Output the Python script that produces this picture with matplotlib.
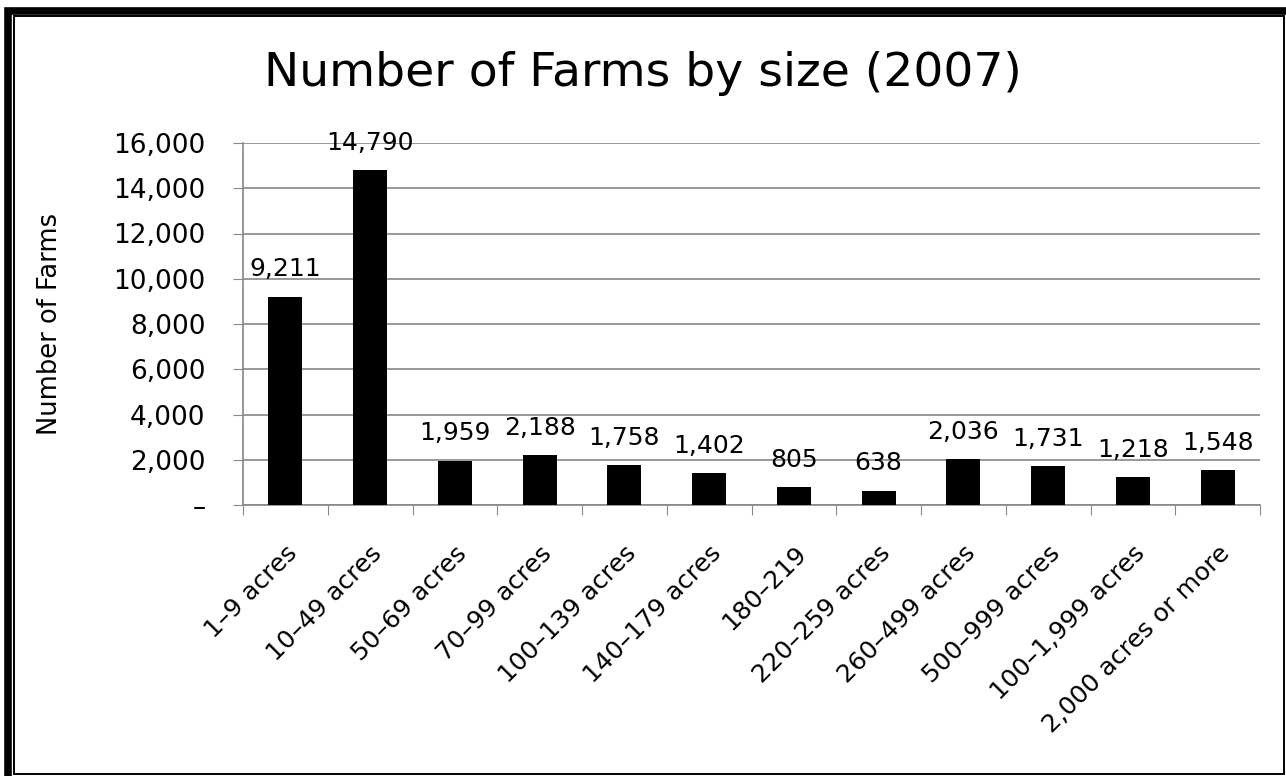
import matplotlib
matplotlib.use("Agg")
import matplotlib.pyplot as plt
from matplotlib.patches import Rectangle
from matplotlib.ticker import FuncFormatter, FixedLocator, NullFormatter

categories = ["1–9 acres", "10–49 acres", "50–69 acres", "70–99 acres",
              "100–139 acres", "140–179 acres", "180–219", "220–259 acres",
              "260–499 acres", "500–999 acres", "100–1,999 acres",
              "2,000 acres or more"]
farms = [9211, 14790, 1959, 2188, 1758, 1402, 805, 638, 2036, 1731, 1218, 1548]
y_ticks = [0, 2000, 4000, 6000, 8000, 10000, 12000, 14000, 16000]

plt.rcParams['font.family'] = ['DejaVu Sans']

fig = plt.figure(figsize=(12.86, 7.76), dpi=100)
ax = fig.add_axes([243 / 1286, 1 - 505 / 776, (1260 - 243) / 1286, (505 - 143) / 776])

x = list(range(len(categories)))
ax.bar(x, farms, width=0.4, color="black", zorder=3)

for xi, v in zip(x, farms):
    ax.annotate(f"{v:,}", (xi, v), xytext=(0, 11), textcoords="offset points",
                ha="center", va="bottom", fontsize=18)

ax.set_xlim(-0.5, len(categories) - 0.5)
ax.set_ylim(0, 16000)
ax.set_yticks(y_ticks)
ax.yaxis.set_major_formatter(FuncFormatter(lambda v, p: "–" if v == 0 else f"{v:,.0f}"))
ax.tick_params(axis="y", labelsize=19, length=7, color="#888888", pad=20)
ax.grid(axis="y", color="#888888", linewidth=1.2, zorder=0)

# x ticks at category boundaries, labels at centers
ax.xaxis.set_major_locator(FixedLocator([i - 0.5 for i in range(len(categories) + 1)]))
ax.xaxis.set_major_formatter(NullFormatter())
ax.xaxis.set_minor_locator(FixedLocator(x))
ax.set_xticklabels(categories, minor=True, rotation=45, ha="right",
                   rotation_mode="anchor", fontsize=18)
ax.tick_params(axis="x", which="major", length=7, color="#888888")
ax.tick_params(axis="x", which="minor", length=0, pad=26)

for side in ["top", "right"]:
    ax.spines[side].set_visible(False)
for side in ["left", "bottom"]:
    ax.spines[side].set_color("#888888")
    ax.spines[side].set_linewidth(1.2)

ax.set_ylabel("Number of Farms", fontsize=18.5)
ax.yaxis.set_label_coords(-0.177, 0.5)

fig.text(643 / 1286, 1 - 73 / 776, "Number of Farms by size (2007)",
         ha="center", va="center", fontsize=34)

# double border like the spreadsheet chart frame
fig.patches.append(Rectangle((7.5 / 1286, -0.1), 1.1, 1.1 - 11 / 776,
                             transform=fig.transFigure, fill=False,
                             edgecolor="black", linewidth=5.5))
fig.patches.append(Rectangle((14 / 1286, 2 / 776), (1284 - 14) / 1286, (774 - 16) / 776,
                             transform=fig.transFigure, fill=False,
                             edgecolor="black", linewidth=1.4))

fig.savefig("out.png", dpi=100)
